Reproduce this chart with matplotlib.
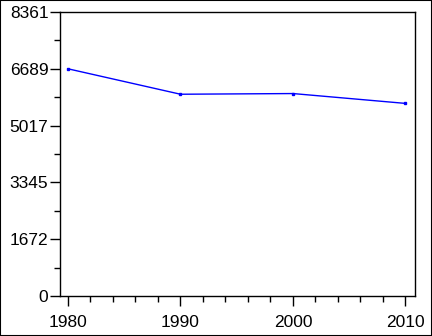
import matplotlib
matplotlib.use("Agg")
import matplotlib.pyplot as plt
from matplotlib.ticker import MultipleLocator, FixedLocator
from matplotlib.patches import Rectangle

years = [1980, 1990, 2000, 2010]
values = [6689, 5940, 5960, 5670]
ytick_values = [0, 1672, 3345, 5017, 6689, 8361]
xtick_values = [1980, 1990, 2000, 2010]

plt.rcParams['font.family'] = ['Liberation Sans', 'DejaVu Sans']

fig = plt.figure(figsize=(4.32, 3.36), dpi=100)
W, H = 432, 336
ax = fig.add_axes([59.5 / W, 1 - 296 / H, (414.5 - 59.5) / W, (296 - 12) / H])

ax.plot(years, values, color='#0000ff', linewidth=1.0, marker='s', markersize=2.0,
        markerfacecolor='#0000ff', markeredgecolor='#0000ff')

ax.set_xlim(1979.25, 2010.8)
ax.set_ylim(0, 8361)
ax.set_xticks(xtick_values)
ax.set_xticklabels([str(v) for v in xtick_values])
ax.xaxis.set_minor_locator(MultipleLocator(2))
ax.set_yticks(ytick_values)
ax.set_yticklabels([str(v) for v in ytick_values])
ax.yaxis.set_minor_locator(FixedLocator([(ytick_values[i] + ytick_values[i + 1]) / 2 for i in range(len(ytick_values) - 1)]))

ax.tick_params(axis='both', which='major', direction='out', length=7, width=1, color='black', labelsize=12.5)
ax.tick_params(axis='both', which='minor', direction='out', length=4, width=1, color='black')
ax.tick_params(axis='x', which='major', pad=7)
ax.tick_params(axis='y', which='major', pad=1)
for lab in ax.get_xticklabels() + ax.get_yticklabels():
    lab.set_fontweight('medium')
for s in ax.spines.values():
    s.set_linewidth(1.0)
    s.set_color('black')

fig.patches.append(Rectangle((0, 0), 1, 1, transform=fig.transFigure, fill=False,
                             edgecolor='black', linewidth=1.5))

fig.savefig('out.png', dpi=100)
